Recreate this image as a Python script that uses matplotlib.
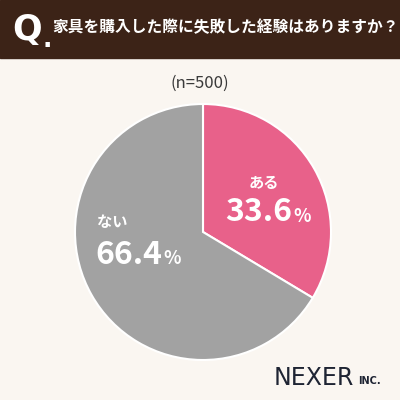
import matplotlib
matplotlib.use("Agg")
import matplotlib.pyplot as plt
from matplotlib.patches import Rectangle

plt.rcParams['font.family'] = ['Noto Sans CJK JP', 'DejaVu Sans']

labels = ["ある", "ない"]
values = [33.6, 66.4]
colors = ["#e8618a", "#a2a2a2"]
title = "家具を購入した際に失敗した経験はありますか？"
n_text = "(n=500)"

W = H = 400
fig = plt.figure(figsize=(4, 4), dpi=100)
fig.patch.set_facecolor("#faf6f1")

def fx(x): return x / W
def fy(y): return 1 - y / H

fig.patches.append(Rectangle((0, fy(58)), 1, 58 / H, transform=fig.transFigure,
                             color="#3c2317", zorder=0))
fig.text(fx(12), fy(30), "Q", color="white", fontsize=25, fontweight="bold",
         va="center", ha="left", family="DejaVu Sans")
fig.text(fx(47), fy(40), ".", color="white", fontsize=18, fontweight="bold",
         va="center", ha="center", family="DejaVu Sans")
fig.text(fx(52), fy(27), title, color="white", fontsize=11.3, fontweight="bold",
         va="center", ha="left")
fig.text(fx(200), fy(83), n_text, color="#3a3a3a", fontsize=12, va="center", ha="center")

cx, cy, r = 203, 232, 128
ax = fig.add_axes([fx(cx - r), fy(cy + r), 2 * r / W, 2 * r / H])
ax.pie(values, colors=colors, startangle=90, counterclock=False,
       wedgeprops=dict(edgecolor="white", linewidth=1.5))
ax.set_xlim(-1, 1)
ax.set_ylim(-1, 1)
ax.set_aspect("equal")
ax.axis("off")

fig.text(fx(264), fy(183), labels[0], color="white", fontsize=11, fontweight="bold", ha="center", va="center")
fig.text(fx(292), fy(212), f"{values[0]}", color="white", fontsize=23, fontweight="bold", ha="right", va="center")
fig.text(fx(293), fy(216), "%", color="white", fontsize=13, fontweight="bold", ha="left", va="center")
fig.text(fx(112), fy(222), labels[1], color="white", fontsize=11, fontweight="bold", ha="center", va="center")
fig.text(fx(162), fy(255), f"{values[1]}", color="white", fontsize=23, fontweight="bold", ha="right", va="center")
fig.text(fx(163), fy(259), "%", color="white", fontsize=13, fontweight="bold", ha="left", va="center")

fig.text(fx(274), fy(378), "NEXER", color="#1e2433", fontsize=17, ha="left", va="center", family="DejaVu Sans")
fig.text(fx(358), fy(381), "INC.", color="#1e2433", fontsize=7, fontweight="bold", ha="left", va="center", family="DejaVu Sans")

fig.savefig("out.png", dpi=100, facecolor=fig.get_facecolor())
